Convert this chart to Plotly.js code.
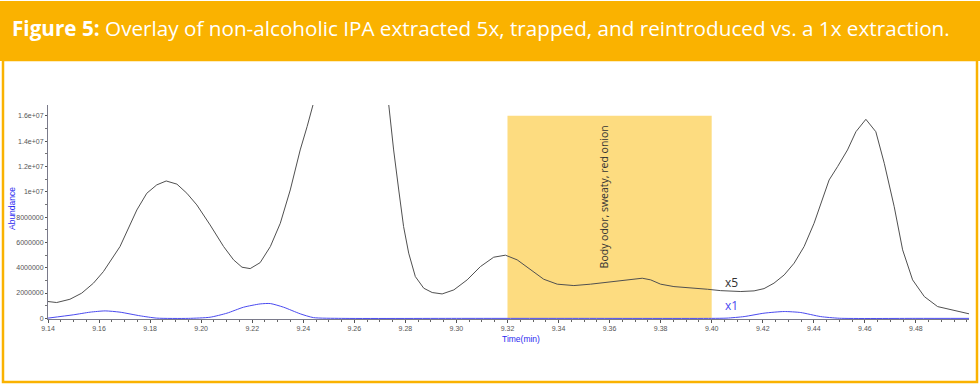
<!DOCTYPE html>
<html>
<head>
<meta charset="utf-8">
<script src="https://cdn.plot.ly/plotly-3.0.1.min.js"></script>
<style>
html,body{margin:0;padding:0;background:#fff;}
#chart{width:980px;height:388px;}
</style>
</head>
<body>
<div id="chart"></div>
<script>
// ---- data ----
const titleBold = "Figure 5:";
const titleRest = " Overlay of non-alcoholic IPA extracted 5x, trapped, and reintroduced vs. a 1x extraction.";

const x5Time = [9.140,9.1434,9.1486,9.1532,9.1578,9.1617,9.1682,9.1748,9.1787,9.1826,9.1863,9.1905,9.1944,9.1983,9.2035,9.2088,9.2127,9.2160,9.2192,9.2231,9.2271,9.2310,9.2349,9.2388,9.2415,9.2440,9.2480,9.2550,9.2620,9.2680,9.2735,9.2754,9.2774,9.2793,9.2813,9.2839,9.2872,9.2905,9.2944,9.2990,9.3042,9.3094,9.3146,9.3192,9.3238,9.3290,9.3342,9.3395,9.3460,9.3525,9.3591,9.3656,9.3728,9.3761,9.3800,9.3852,9.3918,9.3983,9.4035,9.4114,9.4166,9.4205,9.4244,9.4284,9.4323,9.4362,9.4401,9.4427,9.4460,9.4493,9.4532,9.4565,9.4604,9.4643,9.4676,9.4715,9.4748,9.4787,9.4833,9.4885,9.4950,9.5008];
const x5Abund = [1.33e6,1.25e6,1.51e6,1.99e6,2.78e6,3.69e6,5.67e6,8.56e6,9.88e6,10.54e6,10.85e6,10.6e6,9.88e6,8.96e6,7.38e6,5.67e6,4.62e6,4.04e6,3.93e6,4.40e6,5.67e6,7.51e6,10.14e6,13.3e6,15.14e6,17.0e6,22.0e6,30.0e6,32.0e6,26.0e6,16.85e6,13.3e6,10.14e6,7.25e6,5.15e6,3.30e6,2.38e6,2.04e6,1.93e6,2.25e6,3.04e6,4.09e6,4.83e6,4.99e6,4.62e6,3.83e6,3.09e6,2.70e6,2.59e6,2.70e6,2.86e6,3.04e6,3.17e6,3.04e6,2.70e6,2.51e6,2.43e6,2.30e6,2.19e6,2.12e6,2.17e6,2.35e6,2.78e6,3.43e6,4.36e6,5.67e6,7.51e6,9.09e6,10.93e6,11.98e6,13.3e6,14.74e6,15.72e6,14.74e6,12.25e6,8.82e6,5.41e6,3.04e6,1.72e6,0.93e6,0.62e6,0.36e6];

const x1Time = [9.140,9.1499,9.1565,9.1624,9.1682,9.1761,9.1826,9.1950,9.2035,9.2101,9.2166,9.2231,9.2271,9.2323,9.2388,9.2440,9.2550,9.3000,9.3500,9.4000,9.4060,9.4127,9.4205,9.4284,9.4349,9.4427,9.4500,9.4800,9.5008];
const x1Abund = [0.02e6,0.28e6,0.49e6,0.59e6,0.49e6,0.20e6,0.02e6,0,0.09e6,0.41e6,0.88e6,1.14e6,1.17e6,0.88e6,0.36e6,0.06e6,0,0,0,0,0.02e6,0.14e6,0.41e6,0.54e6,0.46e6,0.14e6,0.01e6,0,0];

const xTickVals = [9.14,9.16,9.18,9.20,9.22,9.24,9.26,9.28,9.30,9.32,9.34,9.36,9.38,9.40,9.42,9.44,9.46,9.48];
const xTickText = ["9.14","9.16","9.18","9.20","9.22","9.24","9.26","9.28","9.30","9.32","9.34","9.36","9.38","9.40","9.42","9.44","9.46","9.48"];
const yTickVals = [0,2e6,4e6,6e6,8e6,1e7,1.2e7,1.4e7,1.6e7];
const yTickText = ["0","2000000","4000000","6000000","8000000","1e+07","1.2e+07","1.4e+07","1.6e+07"];

const regionStart = 9.32, regionEnd = 9.40, regionTop = 1.6e7;
const regionLabel = "Body odor, sweaty, red onion";
const label5 = "x5", label1 = "x1";
const xTitle = "Time(min)", yTitle = "Abundance";

// ---- layout helpers ----
const W = 980, H = 388, L = 48, R = 969, T = 105, B = 319;
const px = v => (v - L) / (R - L);
const py = v => (B - v) / (B - T);
const ORANGE = "#FAB200";

const traces = [
  {x: x5Time, y: x5Abund, type: "scatter", mode: "lines", line: {color: "#505050", width: 1}, hoverinfo: "skip"},
  {x: x1Time, y: x1Abund, type: "scatter", mode: "lines", line: {color: "#4a4af0", width: 1, shape: "spline", smoothing: 0.6}, hoverinfo: "skip"}
];

const tickFont = {family: "Liberation Sans, Arial, sans-serif", size: 7, color: "#555"};

const layout = {
  width: W, height: H,
  margin: {l: L, r: W - R, t: T, b: H - B, pad: 0},
  paper_bgcolor: "#ffffff", plot_bgcolor: "rgba(0,0,0,0)",
  showlegend: false,
  title: {
    text: "<b>" + titleBold + "</b>" + titleRest,
    xref: "container", yref: "container", x: 12 / W, xanchor: "left",
    y: 1 - 29 / H, yanchor: "middle",
    font: {family: "Open Sans, sans-serif", size: 20.7, color: "#ffffff"}
  },
  xaxis: {
    range: [9.14, 9.5008], tickmode: "array", tickvals: xTickVals, ticktext: xTickText,
    showgrid: false, zeroline: false, showline: true, linecolor: "#7a7a8a", linewidth: 1,
    ticks: "outside", ticklen: 3, tickcolor: "#555", tickfont: tickFont,
    minor: {dtick: 0.005, tick0: 9.14, ticks: "outside", ticklen: 2, tickcolor: "#666", showgrid: false}
  },
  yaxis: {
    range: [-0.05e6, 16.85e6], tickmode: "array", tickvals: yTickVals, ticktext: yTickText,
    showgrid: false, zeroline: false, showline: true, linecolor: "#7a7a8a", linewidth: 1,
    ticks: "outside", ticklen: 2, tickcolor: "#555", tickfont: tickFont,
    minor: {dtick: 1e6, tick0: 0, ticks: "outside", ticklen: 2, tickcolor: "#777", showgrid: false}
  },
  shapes: [
    {type: "rect", xref: "paper", yref: "paper", x0: px(0), x1: px(W), y0: py(61), y1: py(1),
     fillcolor: ORANGE, line: {width: 0}, layer: "below"},
    {type: "rect", xref: "paper", yref: "paper", x0: px(3), x1: px(977), y0: py(382), y1: py(60),
     fillcolor: "rgba(0,0,0,0)", line: {color: ORANGE, width: 2.5}, layer: "below"},
    {type: "rect", xref: "x", yref: "y", x0: regionStart, x1: regionEnd, y0: 0, y1: regionTop,
     fillcolor: "#FDDC80", line: {width: 0}, layer: "below"}
  ],
  annotations: [
    {text: regionLabel, xref: "x", yref: "y", x: 9.3576, y: 9.59e6, textangle: -90, showarrow: false,
     xanchor: "center", yanchor: "middle",
     font: {family: "Open Sans, sans-serif", size: 10.5, color: "#333"}},
    {text: label5, xref: "x", yref: "y", x: 9.4045, y: 2.8e6, xanchor: "left", yanchor: "middle", showarrow: false,
     font: {family: "Open Sans, sans-serif", size: 12, color: "#333"}},
    {text: label1, xref: "x", yref: "y", x: 9.4045, y: 1.05e6, xanchor: "left", yanchor: "middle", showarrow: false,
     font: {family: "Open Sans, sans-serif", size: 12, color: "#4a4af0"}},
    {text: xTitle, xref: "paper", yref: "paper", x: px(521), y: py(339), xanchor: "center", yanchor: "middle", showarrow: false,
     font: {family: "Liberation Sans, Arial, sans-serif", size: 8.5, color: "#2a2af0"}},
    {text: yTitle, xref: "paper", yref: "paper", x: px(12), y: py(209), xanchor: "center", yanchor: "middle", textangle: -90, showarrow: false,
     font: {family: "Liberation Sans, Arial, sans-serif", size: 8.5, color: "#2a2af0"}}
  ]
};

Plotly.newPlot("chart", traces, layout, {staticPlot: true, displayModeBar: false});
</script>
</body>
</html>
